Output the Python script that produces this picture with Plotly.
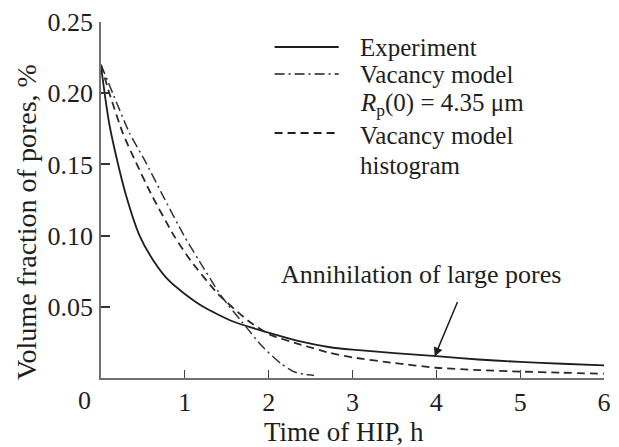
import plotly.graph_objects as go

# Time of HIP (h) and volume fraction of pores (%)
exp_t = [0, 0.05, 0.1, 0.2, 0.3, 0.46, 0.63, 0.8, 1.0, 1.22, 1.56, 1.8, 2.07,
         2.35, 2.73, 3.0, 3.5, 4.0, 4.5, 5.0, 5.5, 6.0]
exp_v = [0.219, 0.197, 0.178, 0.151, 0.128, 0.100, 0.082, 0.069, 0.059, 0.050,
         0.040, 0.0353, 0.0306, 0.026, 0.0216, 0.0199, 0.0175, 0.0153, 0.013,
         0.0113, 0.010, 0.0088]

vac_t = [0, 0.14, 0.34, 0.52, 0.73, 0.99, 1.17, 1.42, 1.52, 1.66, 1.75, 1.91,
         2.15, 2.31, 2.45, 2.54]
vac_v = [0.220, 0.200, 0.172, 0.153, 0.129, 0.100, 0.0824, 0.0588, 0.051,
         0.041, 0.0345, 0.023, 0.0099, 0.0042, 0.0024, 0.0018]

hist_t = [0, 0.1, 0.26, 0.42, 0.6, 0.87, 1.07, 1.4, 1.76, 2.01, 2.35, 2.74,
          3.0, 3.5, 4.0, 4.5, 5.0, 5.5, 6.0]
hist_v = [0.220, 0.200, 0.172, 0.151, 0.129, 0.100, 0.0824, 0.0588, 0.040,
          0.0306, 0.024, 0.0175, 0.0145, 0.0105, 0.0072, 0.0056, 0.0045,
          0.0037, 0.0030]

x_ticks = [1, 2, 3, 4, 5, 6]
y_ticks = [0.05, 0.10, 0.15, 0.20, 0.25]
y_labels = ["0.05", "0.10", "0.15", "0.20", "0.25"]

FONT = "Liberation Serif, Times New Roman, serif"
INK = "#1e1e1e"
AXIS = "#707070"
FS = 26

DASHDOT = "10px,4px,2px,4px"
DASH = "8px,5px"

fig = go.Figure()
fig.add_trace(go.Scatter(x=exp_t, y=exp_v, mode="lines",
                         line=dict(color=INK, width=1.8, shape="spline", smoothing=0.6)))
fig.add_trace(go.Scatter(x=vac_t, y=vac_v, mode="lines",
                         line=dict(color="#333333", width=1.5, dash=DASHDOT,
                                   shape="spline", smoothing=0.6)))
fig.add_trace(go.Scatter(x=hist_t, y=hist_v, mode="lines",
                         line=dict(color="#2a2a2a", width=1.8, dash=DASH,
                                   shape="spline", smoothing=0.6)))

W, H = 619, 447
L, R, T, B = 101, 8, 22, 69
pw, ph = W - L - R, H - T - B


def px(xpix):
    return (xpix - L) / pw


def py(ypix):
    return (H - B - ypix) / ph


# hand-drawn legend keys
keys = [(47, None), (74, DASHDOT), (133, DASH)]
for yy, dash in keys:
    fig.add_shape(type="line", xref="paper", yref="paper",
                  x0=px(277), x1=px(342), y0=py(yy), y1=py(yy),
                  line=dict(color=INK, width=1.8 if dash != DASHDOT else 1.5,
                            dash=dash or "solid"))

legend_rows = [
    ("Experiment", 47),
    ("Vacancy model", 74),
    ("<i>R</i><sub>p</sub>(0) = 4.35 μm", 105),
    ("Vacancy model", 135),
    ("histogram", 165),
]
annotations = []
for txt, yy in legend_rows:
    annotations.append(dict(text=txt, xref="paper", yref="paper", x=px(362), y=py(yy),
                            xanchor="left", yanchor="middle", showarrow=False,
                            font=dict(family=FONT, size=25, color=INK)))

annotations += [
    dict(text="Annihilation of large pores", xref="paper", yref="paper",
         x=px(425), y=py(274), xanchor="center", yanchor="middle", showarrow=False,
         font=dict(family=FONT, size=FS, color=INK)),
    dict(text="", x=3.98, y=0.0151, ax=4.26, ay=0.0544, xref="x", yref="y",
         axref="x", ayref="y", showarrow=True, arrowhead=2, arrowsize=1.2,
         arrowwidth=1.5, arrowcolor=INK),
    dict(text="0", xref="paper", yref="paper", x=px(84), y=py(400),
         xanchor="center", yanchor="middle", showarrow=False,
         font=dict(family=FONT, size=FS, color=INK)),
    dict(text="Time of HIP, h", xref="paper", yref="paper", x=px(347), y=py(432),
         xanchor="center", yanchor="middle", showarrow=False,
         font=dict(family=FONT, size=27, color=INK)),
    dict(text="Volume fraction of pores, %", xref="paper", yref="paper",
         x=px(25), y=py(222), xanchor="center", yanchor="middle", textangle=-90,
         showarrow=False, font=dict(family=FONT, size=28, color=INK)),
]

fig.update_layout(
    width=W, height=H,
    margin=dict(l=L, r=R, t=T, b=B),
    paper_bgcolor="white", plot_bgcolor="white",
    showlegend=False,
    annotations=annotations,
    font=dict(family=FONT, size=FS, color=INK),
)
fig.update_xaxes(range=[0, 6], tickvals=x_ticks, ticks="inside", ticklen=8,
                 tickwidth=1.2, tickcolor="#444", showline=True, linecolor=AXIS,
                 linewidth=1.5, showgrid=False, zeroline=False,
                 tickfont=dict(family=FONT, size=FS, color=INK), ticklabelstandoff=0)
fig.update_yaxes(range=[0, 0.25], tickvals=y_ticks, ticktext=y_labels,
                 ticks="inside", ticklen=9, tickwidth=1.5, tickcolor="#333",
                 showline=True, linecolor=AXIS, linewidth=1.5, showgrid=False,
                 zeroline=False, tickfont=dict(family=FONT, size=FS, color=INK),
                 ticklabelstandoff=1)

fig.write_html("out.html")
